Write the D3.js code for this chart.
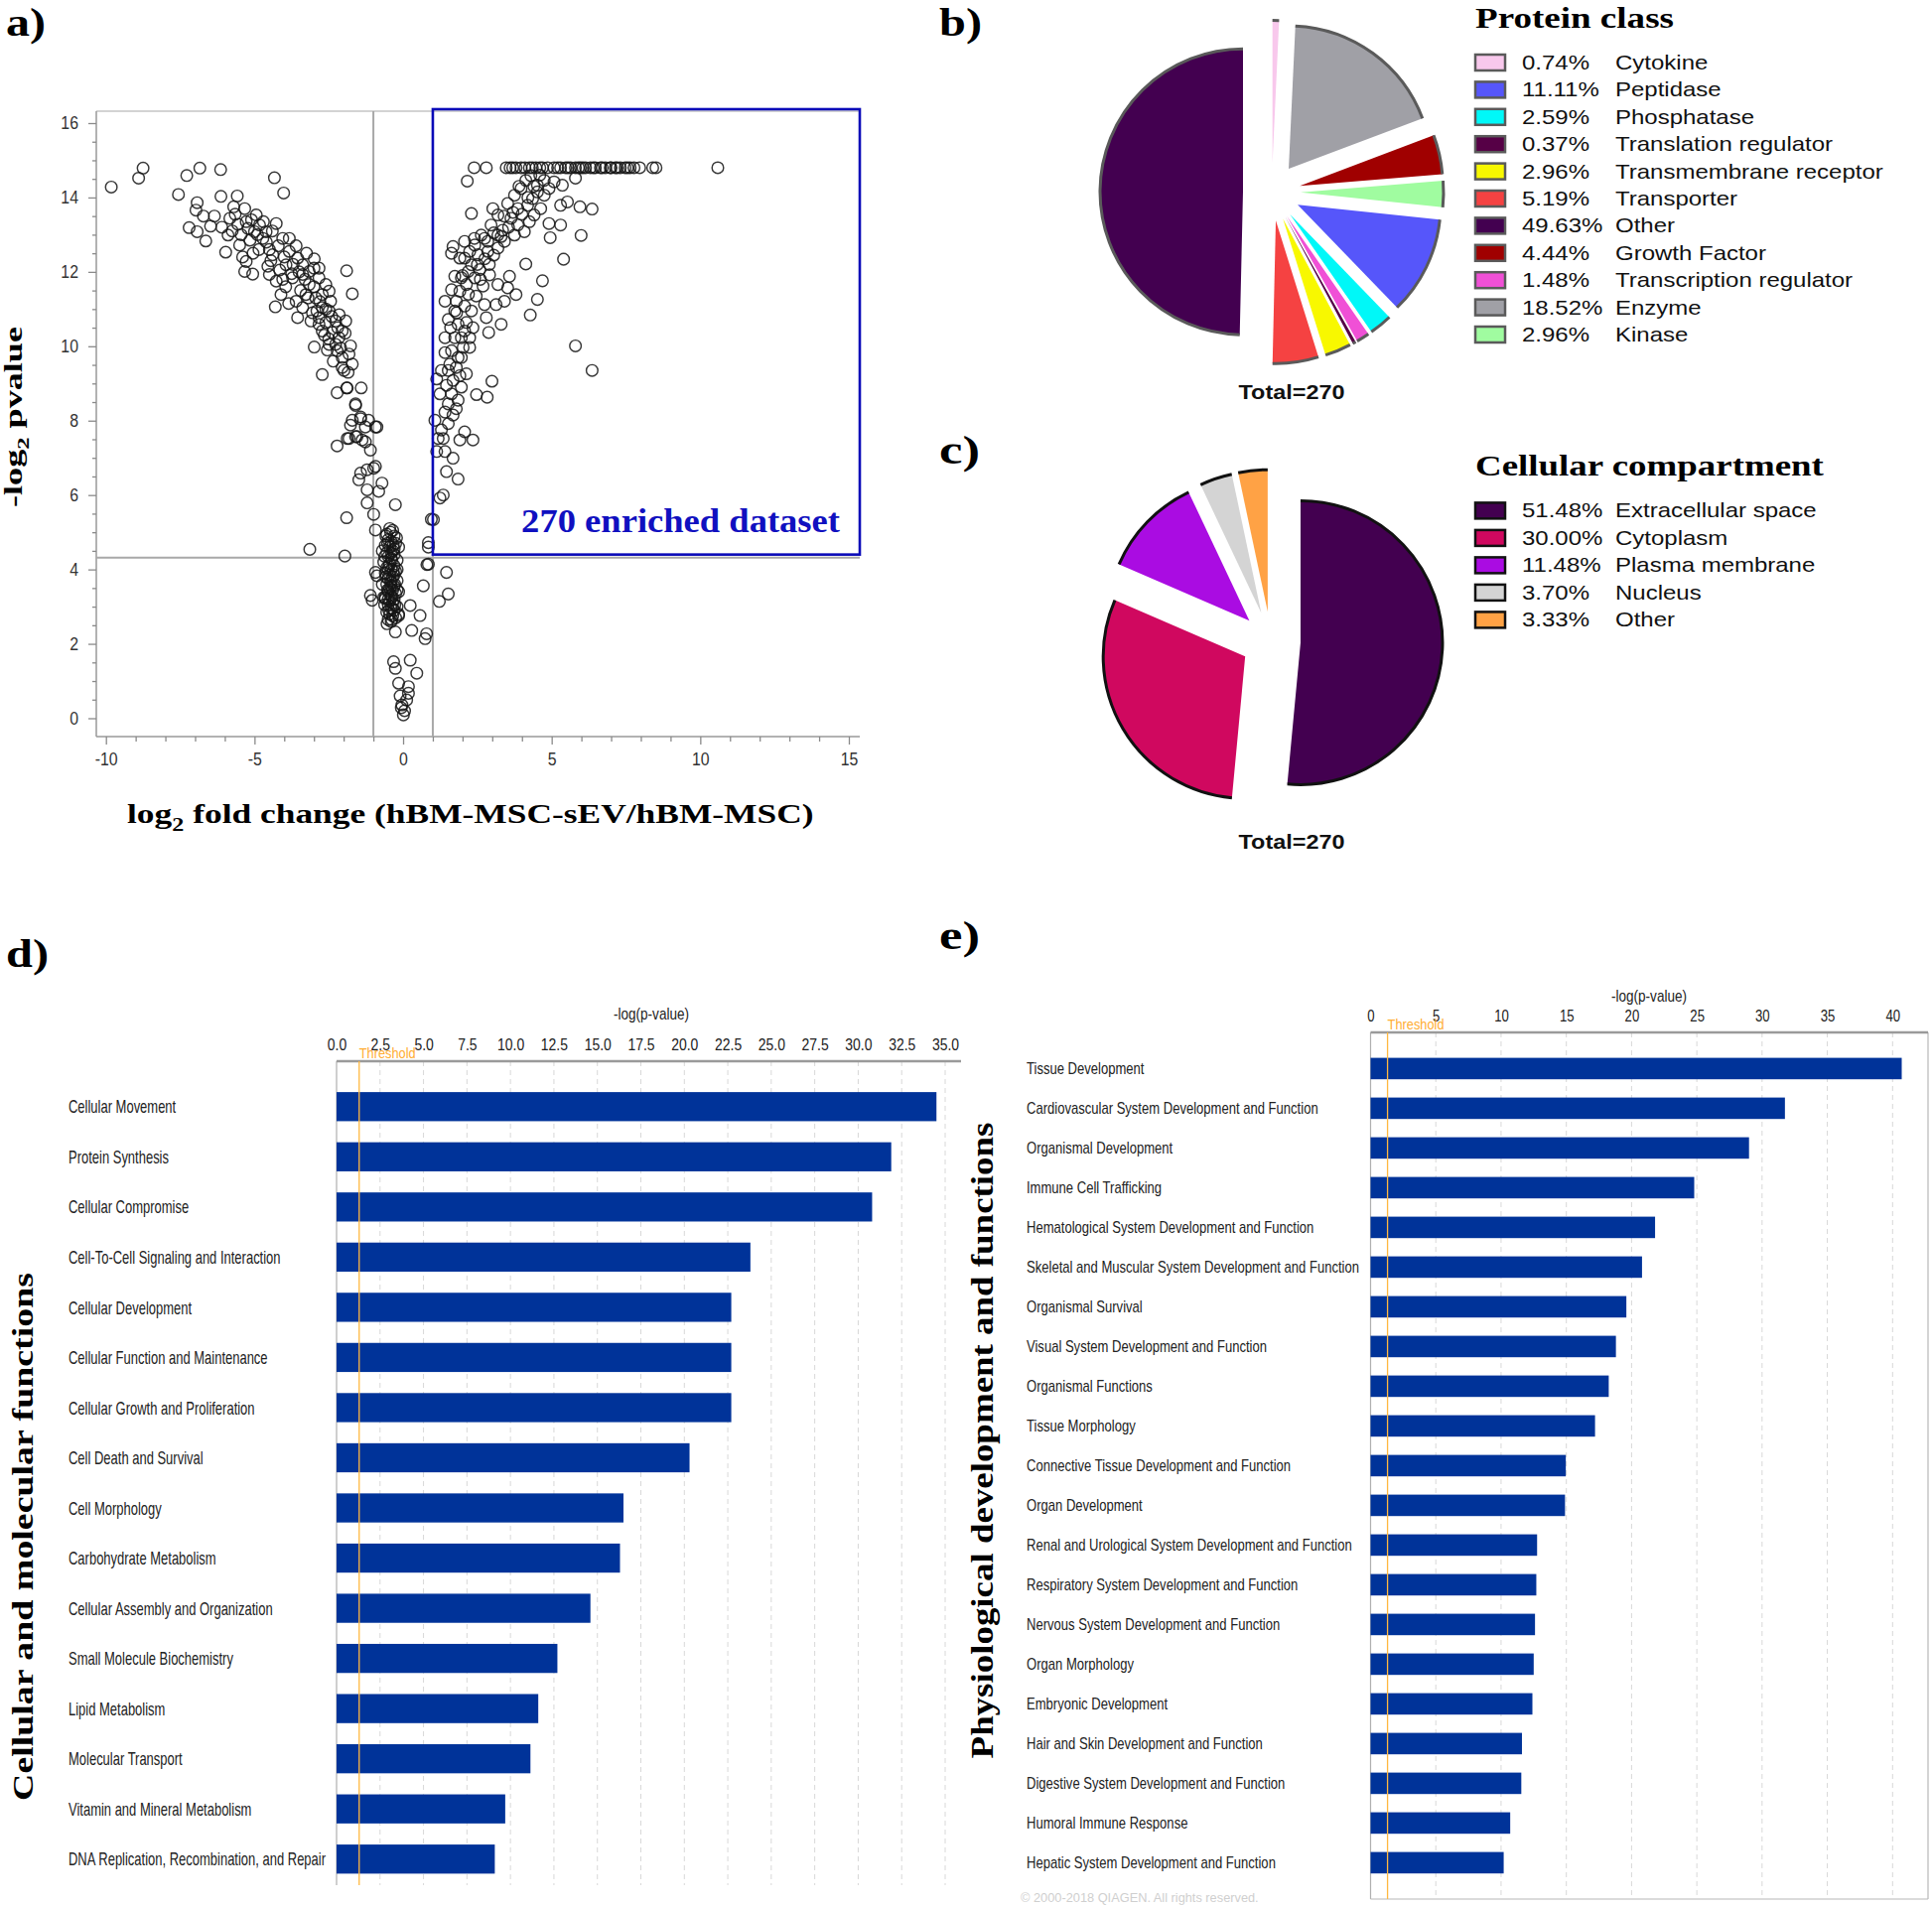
<!DOCTYPE html>
<html><head><meta charset="utf-8">
<script src="https://cdn.jsdelivr.net/npm/d3@7"></script>
<style>body{margin:0;background:#fff} svg{display:block}</style>
</head><body>
<svg id="chart" width="1946" height="1920"></svg>
<script>
// ================= DATA =================
// Panel a: volcano plot points [log2 fold change, -log2 pvalue]
const volcanoLeft = [
[-9.82,14.28],[-8.90,14.52],[-8.75,14.79],[-7.28,14.59],[-6.84,14.79],[-6.14,14.75],[-7.56,14.08],[-6.13,14.03],[-4.33,14.53],[-4.02,14.12],
[-6.93,13.86],[-6.97,13.66],[-6.72,13.5],[-6.48,13.23],[-7.2,13.19],[-6.93,13.08],[-6.64,12.83],[-5.97,12.53],[-5.58,14.04],[-5.7,13.75],
[-5.33,13.7],[-5.83,13.44],[-5.56,13.28],[-5.89,12.99],[-5.5,12.72],[-5.22,13.17],[-4.94,13.53],[-5.0,13.08],[-4.72,12.9],[-5.28,12.28],
[-5.33,12.01],[-5.06,11.94],[-4.5,12.6],[-4.27,13.3],[-4.05,12.9],[-4.39,12.46],[-3.83,12.55],[-3.55,12.37],[-2.99,12.35],[-4.5,11.93],
[-4.27,11.75],[-4.11,11.39],[-4.3,11.06],[-3.72,11.84],[-3.38,11.93],[-3.16,11.66],[-2.83,11.84],[-2.6,11.66],[-3.6,11.21],[-3.55,10.77],
[-3.27,11.39],[-2.94,11.3],[-2.72,11.39],[-2.44,11.21],[-3.1,10.68],[-2.83,10.77],[-2.6,10.64],[-2.27,10.68],[-1.93,10.68],[-2.72,10.41],
[-2.38,10.37],[-2.99,9.98],[-2.49,10.05],[-2.16,10.23],[-1.77,10.01],[-2.22,9.88],[-2.05,9.7],[-1.71,9.52],[-1.99,9.35],[-2.72,9.24],
[-1.9,12.03],[-1.71,11.41],[-2.22,8.75],[-1.9,8.88],[-1.41,8.88],[-1.6,8.45],[-1.71,8.01],[-1.43,8.05],[-1.27,7.83],[-0.93,7.83],
[-1.6,7.57],[-2.22,7.32],[-1.82,7.52],[-1.38,7.48],[-1.1,7.21],[-1.21,6.68],[-0.99,6.72],
[-5.28,13.35],[-4.83,13.26],[-4.61,13.08],[-3.83,12.9],[-3.94,12.19],[-3.38,12.19],[-3.16,12.01],[-2.83,12.1],[-2.49,11.48],[-3.38,11.04],
[-2.72,11.04],[-2.49,10.95],[-2.05,10.41],[-2.83,10.59],[-2.27,10.05],[-2.05,9.43],[-1.82,9.79],
[-1.88,8.88],[-1.6,8.41],[-1.77,7.88],[-1.43,8.1],[-1.16,8.01],[-0.88,7.83],[-1.88,7.52],[-1.55,7.57],[-1.27,7.43],
[-1.43,6.59],[-0.93,6.77],[-1.49,6.41],[-0.71,6.32],[-1.21,6.14],[-0.82,6.1],[-1.21,5.79],[-0.26,5.74],[-1.9,5.39],[-0.99,5.48],
[-0.93,5.06],[-3.14,4.54],[-1.96,4.36],
[-5.1,13.4],[-4.9,13.0],[-4.6,12.8],[-4.4,13.1],[-4.2,12.7],[-4.0,12.4],[-3.7,12.2],[-3.5,12.0],[-3.3,11.8],[-3.0,11.6],
[-2.8,11.2],[-2.6,11.0],[-2.4,10.8],[-2.2,10.5],[-3.0,12.1],[-2.5,10.2],
[-5.65,13.55],[-5.45,13.0],[-5.15,12.85],[-4.85,12.6],[-4.7,13.35],[-4.45,12.3],[-4.15,12.05],[-3.95,11.6],[-3.75,11.95],[-3.6,12.7],
[-3.45,11.5],[-3.2,11.3],[-3.05,10.9],[-2.9,10.95],[-2.65,10.3],[-2.55,9.9],[-2.35,9.6],[-2.1,9.95],[-1.85,9.3],[-1.95,10.35],
[-2.15,10.85],[-3.85,11.15],[-4.05,11.8],[-4.55,12.15],[-5.05,12.5],[-5.4,12.4],[-5.75,13.1],[-6.1,13.2],[-6.35,13.5],[-3.25,12.5]
];
const volcanoCenter = [
[-0.93,3.92],[-0.88,3.83],[-1.1,3.3],[-1.04,3.17],[-0.6,3.21],[-0.54,2.54],[-0.26,2.32],[-0.65,3.25],[-0.15,2.76],
[-0.45,5.1],[-0.35,5.05],[-0.55,4.95],[-0.3,4.9],[-0.5,4.8],[-0.4,4.75],[-0.25,4.7],[-0.6,4.65],[-0.45,4.6],[-0.35,4.5],
[-0.55,4.45],[-0.3,4.4],[-0.5,4.35],[-0.4,4.3],[-0.2,4.25],[-0.65,4.2],[-0.45,4.15],[-0.3,4.1],[-0.55,4.05],[-0.4,4.0],
[-0.25,3.95],[-0.6,3.9],[-0.45,3.85],[-0.35,3.8],[-0.5,3.75],[-0.2,3.7],[-0.4,3.65],[-0.55,3.6],[-0.3,3.55],[-0.45,3.5],
[-0.35,3.45],[-0.5,3.4],[-0.25,3.35],[-0.4,3.3],[-0.6,3.25],[-0.3,3.2],[-0.45,3.15],[-0.35,3.1],[-0.5,3.05],[-0.2,3.0],
[-0.4,2.95],[-0.3,2.9],[-0.55,2.85],[-0.45,2.8],[-0.35,2.75],[-0.25,2.7],[-0.5,2.65],[-0.4,2.6],[-0.3,4.55],[-0.4,4.45],
[-0.5,4.0],[-0.3,3.85],[-0.4,3.55],[-0.5,3.2],[-0.35,2.95],[-0.15,4.6],[-0.15,3.4],[-0.15,2.8],[-0.7,4.5],[-0.7,3.6],
[-0.42,5.0],[-0.52,4.7],[-0.38,4.25],[-0.48,4.1],[-0.33,3.95],[-0.58,3.8],[-0.42,3.7],[-0.28,3.6],[-0.52,3.45],[-0.38,3.25],
[-0.48,2.9],[-0.28,3.05],[-0.62,3.05],[-0.2,4.0],[-0.62,4.35],[-0.33,4.65],[-0.22,4.85],[-0.58,4.9],[-0.38,2.65],[-0.2,3.45],
[0.24,3.03],[0.57,2.76],[0.29,2.36],[0.79,2.27],[0.74,2.14],[0.68,3.56],[0.85,4.14],[1.46,3.92],[1.52,3.34],[1.22,3.14],
[-0.32,1.52],[-0.26,1.34],[0.24,1.56],[0.46,1.21],[-0.15,0.94],[0.18,0.85],[0.18,0.67],[-0.04,0.36],[0.12,0.49],[0.01,0.09],
[-0.06,0.28],[-0.1,0.6],[0.05,0.2]
];
const volcanoRight = [
[0.95,5.35],[0.8,4.13],
[2.16,14.44],[2.3,13.57],[3.02,13.7],[3.19,13.53],[2.96,13.26],[3.52,13.84],[3.75,14.06],[3.97,14.24],[4.13,14.46],[4.3,14.59],
[4.52,14.33],[4.75,14.46],[5.08,14.42],[5.36,14.33],[5.8,14.52],[3.86,13.7],[4.19,13.79],[4.41,13.53],[4.63,13.7],[4.91,13.3],
[5.3,13.26],[5.3,13.79],[5.53,13.88],[5.95,13.75],[6.36,13.69],[4.95,12.92],[5.99,12.98],[5.4,12.34],[4.69,11.76],[4.52,11.26],
[4.28,10.84],[3.3,10.59],[2.88,10.37],[4.13,12.21],[3.8,11.39],[3.52,11.57],[3.58,11.88],[3.19,11.66],[3.41,11.21],[3.13,11.12],
[2.8,10.77],[2.74,11.12],[2.46,11.35],[2.69,11.62],[2.91,11.92],[2.58,12.06],[2.3,12.19],[2.52,12.46],[2.85,12.55],[3.19,12.64],
[3.41,12.82],[3.75,12.99],[4.08,13.08],[2.74,12.9],[2.41,12.72],[2.07,12.82],[1.68,12.68],[1.63,12.5],[1.91,12.37],[2.19,12.01],
[1.74,11.88],[1.91,11.48],[1.63,11.52],[1.41,11.21],[1.52,10.72],[1.74,10.95],[2.07,11.08],[2.3,10.95],[2.35,10.5],[2.07,10.41],
[1.96,10.23],[2.24,9.97],[1.41,10.23],[1.41,9.83],[1.63,9.88],[1.57,9.52],[1.79,9.43],[1.96,9.7],[2.13,9.26],[1.91,9.21],
[1.68,9.08],[1.46,8.95],[1.13,9.12],[1.24,8.72],[1.63,8.72],[1.85,8.55],[1.52,8.45],[1.79,8.32],[1.41,8.23],[1.68,8.15],
[1.07,8.01],[1.52,7.92],[1.29,7.75],[1.18,7.52],[1.35,7.52],[1.13,7.17],[1.41,7.17],[1.68,6.99],[2.07,7.7],[2.35,7.48],
[1.91,7.48],[2.47,8.7],[2.83,8.63],[2.99,9.06],[5.8,10.01],[6.36,9.35],[1.46,6.63],[1.85,6.43],[1.24,5.92],[1.35,6.0],
[1.02,5.34],[0.85,4.72],[0.85,4.6],
[3.63,13.44],[3.86,13.26],[4.25,13.35],[4.36,13.97],[4.75,14.06],[4.91,14.24],[4.52,14.15],[3.35,13.12],[3.19,12.99],[2.85,12.82],
[2.63,12.99],[2.24,12.55],[2.07,12.37],[2.41,11.84],[2.13,11.66],[1.96,11.84],[1.79,11.21],[2.13,10.64],[1.85,10.59],[1.74,10.23],
[2.24,10.23],[2.02,9.97],[1.85,9.7],[1.29,9.35],[1.52,9.35],[1.96,8.9],
[2.5,12.2],[2.75,12.35],[3.05,12.45],[3.3,12.95],[3.55,13.2],[3.7,13.6],[4.0,13.55],[4.2,14.0],[4.4,14.3],[2.6,11.8],
[2.9,12.2],[2.2,11.4],[2.0,11.9],[3.05,13.05],[3.9,14.3],[4.6,14.6],[1.8,10.9],[1.6,10.5],[2.4,12.9],[3.4,13.5],
[2.39,14.8],[2.8,14.8],[3.47,14.8],[3.6,14.8],[3.69,14.8],[3.8,14.8],[3.97,14.8],[4.1,14.8],[4.25,14.8],[4.35,14.8],
[4.47,14.8],[4.6,14.8],[4.69,14.8],[4.86,14.8],[5.08,14.8],[5.2,14.8],[5.3,14.8],[5.47,14.8],[5.55,14.8],[5.64,14.8],
[5.8,14.8],[5.9,14.8],[5.97,14.8],[6.05,14.8],[6.14,14.8],[6.3,14.8],[6.4,14.8],[6.47,14.8],[6.64,14.8],[6.7,14.8],
[6.81,14.8],[6.97,14.8],[7.0,14.8],[7.14,14.8],[7.2,14.8],[7.31,14.8],[7.47,14.8],[7.55,14.8],[7.64,14.8],[7.77,14.8],
[7.96,14.8],[8.4,14.8],[8.51,14.8],[10.59,14.8]
];
const volcanoXTicks = [-10, -5, 0, 5, 10, 15];
const volcanoYTicks = [0, 2, 4, 6, 8, 10, 12, 14, 16];
const foldCut = 1;          // |log2 FC| threshold lines
const pvalueCut = 4.32;     // -log2 p threshold line
const enrichedBoxBottom = 4.4;
const enrichedLabel = "270 enriched dataset";

// Panel b: protein class
const proteinClasses = ["Cytokine","Peptidase","Phosphatase","Translation regulator","Transmembrane receptor","Transporter","Other","Growth Factor","Transcription regulator","Enzyme","Kinase"];
const proteinPercents = [0.74, 11.11, 2.59, 0.37, 2.96, 5.19, 49.63, 4.44, 1.48, 18.52, 2.96];
const proteinColors = ["#f8c8ec","#5656fa","#00f8f8","#560046","#f8f800","#f54242","#430050","#a00000","#f050d6","#a0a0a6","#a0fca0"];
const proteinPieOrder = ["Cytokine","Enzyme","Growth Factor","Kinase","Peptidase","Phosphatase","Transcription regulator","Translation regulator","Transmembrane receptor","Transporter","Other"];

// Panel c: cellular compartment
const compartments = ["Extracellular space","Cytoplasm","Plasma membrane","Nucleus","Other"];
const compartmentPercents = [51.48, 30.00, 11.48, 3.70, 3.33];
const compartmentColors = ["#430050","#d0085f","#aa0ce2","#d4d4d4","#ffa245"];
const totalProteins = 270;

// Panel d: cellular and molecular functions
const cellFunctions = ["Cellular Movement","Protein Synthesis","Cellular Compromise","Cell-To-Cell Signaling and Interaction","Cellular Development","Cellular Function and Maintenance","Cellular Growth and Proliferation","Cell Death and Survival","Cell Morphology","Carbohydrate Metabolism","Cellular Assembly and Organization","Small Molecule Biochemistry","Lipid Metabolism","Molecular Transport","Vitamin and Mineral Metabolism","DNA Replication, Recombination, and Repair"];
const cellValues = [34.5, 31.9, 30.8, 23.8, 22.7, 22.7, 22.7, 20.3, 16.5, 16.3, 14.6, 12.7, 11.6, 11.15, 9.7, 9.1];
const cellTicks = [0, 2.5, 5, 7.5, 10, 12.5, 15, 17.5, 20, 22.5, 25, 27.5, 30, 32.5, 35];

// Panel e: physiological development and functions
const physFunctions = ["Tissue Development","Cardiovascular System Development and Function","Organismal Development","Immune Cell Trafficking","Hematological System Development and Function","Skeletal and Muscular System Development and Function","Organismal Survival","Visual System Development and Function","Organismal Functions","Tissue Morphology","Connective Tissue Development and Function","Organ Development","Renal and Urological System Development and Function","Respiratory System Development and Function","Nervous System Development and Function","Organ Morphology","Embryonic Development","Hair and Skin Development and Function","Digestive System Development and Function","Humoral Immune Response","Hepatic System Development and Function"];
const physValues = [40.7, 31.75, 29.0, 24.8, 21.8, 20.8, 19.6, 18.8, 18.25, 17.2, 14.96, 14.9, 12.76, 12.7, 12.6, 12.5, 12.4, 11.6, 11.55, 10.7, 10.2];
const physTicks = [0, 5, 10, 15, 20, 25, 30, 35, 40];
const thresholdValue = 1.3;

// ================= DRAWING =================
const SANS = "'Liberation Sans', Arial, sans-serif";
const SERIF = "'Liberation Serif', 'Times New Roman', serif";
const svg = d3.select("#chart");
svg.append("rect").attr("width",1946).attr("height",1920).attr("fill","#fff");

// text helper: optional target width (horizontal stretch), rotation, subscript parts
function txt(parent, o) {
  const t = parent.append("text")
    .attr("font-family", o.family || SANS)
    .attr("font-size", o.size)
    .attr("font-weight", o.weight || "normal")
    .attr("fill", o.fill || "#000")
    .attr("text-anchor", o.anchor || "start");
  if (o.parts) {
    o.parts.forEach(p => {
      const s = t.append("tspan").text(p.t);
      if (p.sub) s.attr("font-size", o.size * 0.68).attr("dy", o.size * 0.28);
      if (p.unsub) s.attr("dy", -o.size * 0.28);
    });
  } else t.text(o.text);
  let k = o.k || 1;
  if (o.width) k = o.width / t.node().getComputedTextLength();
  t.attr("transform", `translate(${o.x},${o.y}) rotate(${o.rotate || 0}) scale(${k},1)`);
  return t;
}
function condense(sel, k) {
  sel.each(function () {
    const w = this.getComputedTextLength();
    d3.select(this).attr("textLength", w * k).attr("lengthAdjust", "spacingAndGlyphs");
  });
}

// ---------- panel labels ----------
[["a)",6,36,40],["b)",946,36,43],["c)",946,467,41],["d)",6,974,43],["e)",946,956,41]].forEach(([s,x,y,w]) =>
  txt(svg,{text:s,x,y,size:40,weight:"bold",family:SERIF,width:w}));

// ---------- Panel a: volcano ----------
const gA = svg.append("g");
const frameA = {l:97, t:112, r:866, b:742};
const xA = d3.scaleLinear().domain([-10, 15]).range([106.7, 855]);
const yA = d3.scaleLinear().domain([0, 16]).range([723.5, 124]);

gA.append("line").attr("x1",frameA.l).attr("x2",frameA.r).attr("y1",frameA.t).attr("y2",frameA.t).attr("stroke","#c4c4c4").attr("stroke-width",1.5);
gA.append("line").attr("x1",frameA.l).attr("x2",frameA.l).attr("y1",frameA.t).attr("y2",frameA.b).attr("stroke","#999").attr("stroke-width",1.5);
gA.append("line").attr("x1",frameA.l).attr("x2",frameA.r).attr("y1",frameA.b).attr("y2",frameA.b).attr("stroke","#999").attr("stroke-width",1.5);

const plainFmt = d => String(d);
const yAx = gA.append("g").attr("transform",`translate(${frameA.l},0)`)
  .call(d3.axisLeft(yA).tickValues(volcanoYTicks).tickSize(8).tickPadding(10).tickFormat(plainFmt));
const yAm = gA.append("g").attr("transform",`translate(${frameA.l},0)`)
  .call(d3.axisLeft(yA).tickValues(d3.range(0.5, 16.1, 0.5).filter(v => v % 2 !== 0)).tickSize(4).tickFormat(""));
const xAx = gA.append("g").attr("transform",`translate(0,${frameA.b})`)
  .call(d3.axisBottom(xA).tickValues(volcanoXTicks).tickSize(8).tickPadding(8).tickFormat(plainFmt));
const xAm = gA.append("g").attr("transform",`translate(0,${frameA.b})`)
  .call(d3.axisBottom(xA).tickValues(d3.range(-10, 15.1, 1).filter(v => v % 5 !== 0)).tickSize(5).tickFormat(""));
[yAx,yAm,xAx,xAm].forEach(g => { g.select(".domain").remove(); g.selectAll("line").attr("stroke","#8a8a8a").attr("stroke-width",1.3); });
[yAx,xAx].forEach(g => { const t = g.selectAll("text").attr("font-family",SANS).attr("font-size",18).attr("fill","#333"); condense(t,0.88); });

// threshold lines
gA.append("line").attr("x1",xA(-foldCut)).attr("x2",xA(-foldCut)).attr("y1",frameA.t).attr("y2",frameA.b).attr("stroke","#a8a8a8").attr("stroke-width",2);
gA.append("line").attr("x1",xA(foldCut)).attr("x2",xA(foldCut)).attr("y1",yA(enrichedBoxBottom)).attr("y2",frameA.b).attr("stroke","#a8a8a8").attr("stroke-width",2);
gA.append("line").attr("x1",frameA.l).attr("x2",frameA.r).attr("y1",yA(pvalueCut)).attr("y2",yA(pvalueCut)).attr("stroke","#a8a8a8").attr("stroke-width",2);

// points
const allPts = volcanoLeft.concat(volcanoCenter, volcanoRight);
gA.append("g").selectAll("circle").data(allPts).join("circle")
  .attr("cx", d => xA(d[0])).attr("cy", d => yA(d[1])).attr("r", 5.8)
  .attr("fill","none").attr("stroke","#151515").attr("stroke-width",1.45).attr("stroke-opacity",0.85);

// enriched box
gA.append("rect").attr("x", xA(foldCut)).attr("y", 110).attr("width", frameA.r - xA(foldCut)).attr("height", yA(enrichedBoxBottom) - 110)
  .attr("fill","none").attr("stroke","#0a0ab8").attr("stroke-width",2.6);
txt(gA,{text:enrichedLabel,x:846,y:536,size:34,weight:"bold",family:SERIF,fill:"#1010c0",anchor:"end",width:321});

// axis titles
txt(gA,{parts:[{t:"log"},{t:"2",sub:true},{t:" fold change (hBM-MSC-sEV/hBM-MSC)",unsub:true}],x:128,y:829,size:28,weight:"bold",family:SERIF,width:692});
txt(gA,{parts:[{t:"-log"},{t:"2",sub:true},{t:" pvalue",unsub:true}],x:22,y:420,size:26,weight:"bold",family:SERIF,anchor:"middle",rotate:-90,width:182});

// ---------- Pie helper ----------
function drawPie(g, items, cx, cy, r, off, stroke) {
  const pie = d3.pie().sort(null).value(d => d.v);
  const arc = d3.arc().innerRadius(0).outerRadius(r);
  const rim = d3.arc().innerRadius(r).outerRadius(r);
  pie(items).forEach(a => {
    const m = (a.startAngle + a.endAngle) / 2;
    const tx = cx + Math.sin(m) * off, ty = cy - Math.cos(m) * off;
    const s = g.append("g").attr("transform", `translate(${tx},${ty})`);
    s.append("path").attr("d", arc(a)).attr("fill", a.data.c);
    s.append("path").attr("d", rim(a)).attr("fill","none").attr("stroke", stroke).attr("stroke-width", 3);
  });
}
function drawLegend(g, names, pcts, colors, x, y0, step, stroke) {
  names.forEach((n, i) => {
    const cy = y0 + i * step;
    g.append("rect").attr("x", x).attr("y", cy - 8).attr("width", 30).attr("height", 16)
      .attr("fill", colors[i]).attr("stroke", stroke).attr("stroke-width", 2.5);
    txt(g,{text:pcts[i].toFixed(2)+"%",x:x+47,y:cy+7,size:20,fill:"#111",k:1.2});
    txt(g,{text:n,x:x+141,y:cy+7,size:20,fill:"#111",k:1.2});
  });
}

// ---------- Panel b ----------
const gB = svg.append("g");
const itemsB = proteinPieOrder.map(n => { const i = proteinClasses.indexOf(n); return {name:n, v:proteinPercents[i], c:proteinColors[i]}; });
drawPie(gB, itemsB, 1281, 193.5, 144, 29, "#5a5a5a");
txt(gB,{text:"Protein class",x:1486,y:28,size:29,weight:"bold",family:SERIF,width:200});
drawLegend(gB, proteinClasses, proteinPercents, proteinColors, 1486, 63, 27.4, "#5a5a5a");
txt(gB,{text:"Total="+totalProteins,x:1301,y:402,size:21,weight:"bold",anchor:"middle",width:107,fill:"#111"});

// ---------- Panel c ----------
const gC = svg.append("g");
const itemsC = compartments.map((n,i) => ({name:n, v:compartmentPercents[i], c:compartmentColors[i]}));
drawPie(gC, itemsC, 1280, 646, 143, 30, "#111");
txt(gC,{text:"Cellular compartment",x:1486,y:479,size:30,weight:"bold",family:SERIF,width:351});
drawLegend(gC, compartments, compartmentPercents, compartmentColors, 1486, 514.4, 27.5, "#111");
txt(gC,{text:"Total="+totalProteins,x:1301,y:855,size:21,weight:"bold",anchor:"middle",width:107,fill:"#111"});

// ---------- Bar panel helper ----------
function drawBars(g, cfg) {
  const x = d3.scaleLinear().domain(cfg.domain).range(cfg.xr);
  const y = d3.scaleBand().domain(cfg.cats).range(cfg.yr).paddingInner(cfg.pad).paddingOuter(cfg.pad / 2);
  // grid
  g.append("g").selectAll("line").data(cfg.ticks.filter(t => t > 0)).join("line")
    .attr("x1", d => x(d)).attr("x2", d => x(d)).attr("y1", cfg.axisY).attr("y2", cfg.bottom)
    .attr("stroke","#d8d8d8").attr("stroke-width",1).attr("stroke-dasharray","5,4");
  // frame
  g.append("line").attr("x1",cfg.xr[0]).attr("x2",cfg.xr[0]).attr("y1",cfg.axisY).attr("y2",cfg.bottom).attr("stroke","#b0b0b0").attr("stroke-width",1.2);
  if (cfg.boxRight) {
    g.append("line").attr("x1",cfg.boxRight).attr("x2",cfg.boxRight).attr("y1",cfg.axisY).attr("y2",cfg.bottom).attr("stroke","#b8b8b8").attr("stroke-width",1.2);
    g.append("line").attr("x1",cfg.xr[0]).attr("x2",cfg.boxRight).attr("y1",cfg.bottom).attr("y2",cfg.bottom).attr("stroke","#b8b8b8").attr("stroke-width",1.2);
  }
  g.append("line").attr("x1",cfg.xr[0]).attr("x2",cfg.axisRight).attr("y1",cfg.axisY).attr("y2",cfg.axisY).attr("stroke","#9a9a9a").attr("stroke-width",2.5);
  // tick labels
  const ax = g.append("g").attr("transform",`translate(0,${cfg.axisY})`)
    .call(d3.axisTop(x).tickValues(cfg.ticks).tickSize(0).tickPadding(cfg.tickPad).tickFormat(cfg.fmt));
  ax.select(".domain").remove();
  const tl = ax.selectAll("text").attr("font-family",SANS).attr("font-size",cfg.tickSize).attr("fill","#222");
  condense(tl, cfg.tickK);
  // bars
  g.append("g").selectAll("rect").data(cfg.vals).join("rect")
    .attr("x", x(0)).attr("y", (d,i) => y(cfg.cats[i])).attr("width", d => x(d) - x(0)).attr("height", y.bandwidth())
    .attr("fill","#003399");
  // threshold
  g.append("line").attr("x1",x(thresholdValue)).attr("x2",x(thresholdValue)).attr("y1",cfg.axisY).attr("y2",cfg.bottom)
    .attr("stroke","#ffb840").attr("stroke-width",1.3);
  txt(g,{text:"Threshold",x:x(thresholdValue),y:cfg.threshY,size:14,fill:"#ffad33",width:57});
  // axis title
  txt(g,{text:"-log(p-value)",x:cfg.titleX,y:cfg.titleY,size:16,anchor:"middle",fill:"#222",width:76});
  // category labels
  const labs = g.append("g").selectAll("text").data(cfg.cats).join("text")
    .attr("x", cfg.labelX).attr("y", d => y(d) + y.bandwidth()/2 + cfg.labelSize*0.35)
    .attr("font-family",SANS).attr("font-size",cfg.labelSize).attr("fill","#222").text(d => d);
  const ref = labs.filter(d => d === cfg.refLabel).node().getComputedTextLength();
  condense(labs, cfg.refWidth / ref);
  return {x, y};
}

// ---------- Panel d ----------
const gD = svg.append("g");
drawBars(gD, {
  cats: cellFunctions, vals: cellValues, ticks: cellTicks, domain: [0, 35], xr: [339, 952],
  yr: [1089.5, 1898], pad: 0.42, axisY: 1069, axisRight: 968, bottom: 1899,
  fmt: d3.format(".1f"), tickPad: 11, tickSize: 17, tickK: 0.82,
  threshY: 1066, titleX: 656, titleY: 1027, labelX: 69, labelSize: 19,
  refLabel: "DNA Replication, Recombination, and Repair", refWidth: 259
});
txt(gD,{text:"Cellular and molecular functions",x:33,y:1548,size:30,weight:"bold",family:SERIF,anchor:"middle",rotate:-90,width:532});

// ---------- Panel e ----------
const gE = svg.append("g");
drawBars(gE, {
  cats: physFunctions, vals: physValues, ticks: physTicks, domain: [0, 40], xr: [1380.5, 1906.3],
  yr: [1056.4, 1896.4], pad: 0.46, axisY: 1040, axisRight: 1942, bottom: 1913, boxRight: 1942,
  fmt: d3.format("d"), tickPad: 11, tickSize: 16, tickK: 0.82,
  threshY: 1037, titleX: 1661, titleY: 1009, labelX: 1034, labelSize: 17,
  refLabel: "Skeletal and Muscular System Development and Function", refWidth: 335
});
txt(gE,{text:"Physiological development and functions",x:1000,y:1451,size:31,weight:"bold",family:SERIF,anchor:"middle",rotate:-90,width:641});
txt(gE,{text:"© 2000-2018 QIAGEN. All rights reserved.",x:1028,y:1916,size:12,fill:"#cfcfcf",width:240});
</script>
</body></html>
